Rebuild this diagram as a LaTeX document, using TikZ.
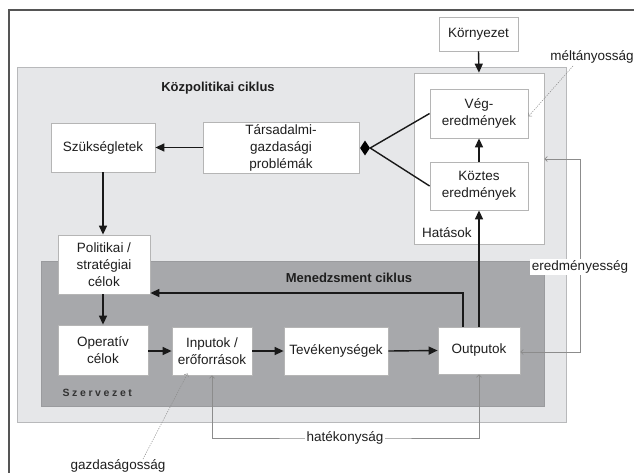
\documentclass[tikz,border=0pt]{standalone}
\usepackage{fontspec}
\setmainfont{Liberation Sans}
\newfontfamily\spacedfont[LetterSpace=25]{Liberation Sans}
\usetikzlibrary{arrows.meta,shapes.geometric}
\definecolor{lightbg}{HTML}{E6E7E9}
\definecolor{lightline}{HTML}{B8B9BB}
\definecolor{darkbg}{HTML}{A7A8AB}
\definecolor{darkline}{HTML}{9A9B9E}
\definecolor{boxline}{HTML}{B5B5B5}
\definecolor{txt}{HTML}{1E1E1E}
\definecolor{frameline}{HTML}{555555}
\definecolor{fbgray}{HTML}{8C8C8C}
\begin{document}
\begin{tikzpicture}[x=1pt,y=-1pt,
  stdfont/.style={font=\fontsize{13.5}{17}\selectfont,text=txt},
  box/.style={draw=boxline,line width=0.8pt,fill=white,align=center,inner sep=0pt,stdfont},
  flow/.style={line width=1.4pt,draw=black!90,-{Triangle[length=9pt,width=8pt]}},
  plainflow/.style={line width=1.4pt,draw=black!90},
  fbline/.style={draw=fbgray,line width=0.6pt},
  fbtips/.style={{Straight Barb[length=2.5pt,width=5pt]}-{Straight Barb[length=2.5pt,width=5pt]}},
  fbend/.style={-{Straight Barb[length=2.5pt,width=5pt]}},
  dots/.style={draw=fbgray,line width=0.5pt,dash pattern=on 1.2pt off 1.2pt},
  heading/.style={font=\bfseries\fontsize{13}{16}\selectfont,text=txt},
  lab/.style={stdfont,inner sep=1pt}
 ]
\useasboundingbox (0,0) rectangle (634,472);
\fill[white] (0,0) rectangle (634,472);
% outer frame
\draw[frameline,line width=1.5pt] (9,480) -- (9,10) -- (640,10);
% background regions
\draw[lightline,fill=lightbg,line width=0.8pt] (17,67) rectangle (566,422);
\draw[darkline,fill=darkbg,line width=0.8pt] (41,261) rectangle (544,406);
% Hatasok box
\node[box,minimum width=130pt,minimum height=171pt] (hat) at (479,158.5) {};
\node[lab,anchor=west] (hatlab) at (421,233) {Hatások};
% boxes
\node[box,minimum width=79pt,minimum height=34pt] (korny) at (478.5,34) {Környezet};
\node[box,minimum width=98pt,minimum height=49pt] (veg) at (479,113.5) {Vég-\\eredmények};
\node[box,minimum width=98pt,minimum height=48pt] (kozt) at (479,186) {Köztes\\eredmények};
\node[box,minimum width=156pt,minimum height=51pt] (tars) at (281,147.5) {Társadalmi-\\gazdasági\\problémák};
\node[box,minimum width=104pt,minimum height=49pt] (szuk) at (103,147.5) {Szükségletek};
\node[box,minimum width=92pt,minimum height=59pt] (pol) at (104,264.5) {Politikai /\\stratégiai\\célok};
\node[box,minimum width=90pt,minimum height=50pt] (oper) at (103,350) {Operatív\\célok};
\node[box,minimum width=80pt,minimum height=48pt] (inp) at (212,351) {Inputok /\\erőforrások};
\node[box,minimum width=104pt,minimum height=48pt] (tev) at (336,351) {Tevékenységek};
\node[box,minimum width=82pt,minimum height=47pt] (out) at (479,350.5) {Outputok};
% headings
\node[heading] (kpc) at (218,88) {Közpolitikai ciklus};
\node[heading] (mc) at (349,278) {Menedzsment ciklus};
\node[anchor=west,font=\spacedfont\bfseries\fontsize{10.5}{13}\selectfont,text=black!80] (szerv) at (59,393) {Szervezet};
% diamond junction
\node[diamond,fill=black,draw=none,minimum width=10pt,minimum height=15pt,inner sep=0pt] (dia) at (365,148) {};
% main flows
\draw[flow] (korny.south) -- (hat.north);
\draw[flow] (kozt.north) -- (veg.south);
\draw[flow] (out.north) -- (kozt.south);
\draw[plainflow] (veg.west) -- (dia.east);
\draw[plainflow] (kozt.west) -- (dia.east);
\draw[flow] (tars.west) -- (szuk.east);
\draw[flow] (szuk.south) -- (szuk.south |- pol.north);
\draw[flow] (pol.south -| oper.north) -- (oper.north);
\draw[flow] (oper.east |- inp.west) -- (inp.west);
\draw[flow] (inp.east) -- (tev.west);
\draw[flow] (tev.east) -- (out.west);
\coordinate (fb) at (463,293);
\draw[flow] (fb |- out.north) -- (fb) -- (fb -| pol.east);
% eredmenyesseg
\coordinate (er) at (580,159);
\draw[fbline,fbtips] (er -| hat.east) -- (er) -- (er |- 0,352) -- (out.east |- 0,352);
\node[lab,fill=white,inner sep=1.5pt] (erlab) at (580,267) {eredményesség};
% hatekonysag
\coordinate (hk) at (345,438);
\draw[fbline,fbtips] (inp.south) |- (hk) -| (out.south);
\node[lab,fill=white,inner sep=1.5pt] (hklab) at (hk) {hatékonyság};
% meltanyossag
\node[lab] (mlab) at (592,57) {méltányosság};
\coordinate (mt) at (573,66);
\draw[dots,fbend] (mt) -- ([yshift=-3pt]veg.east);
% gazdasagossag
\node[lab] (glab) at (118,466) {gazdaságosság};
\coordinate (gt) at (143,459);
\draw[dots,fbend] (gt) -- ([xshift=16pt,yshift=2pt]inp.south west);
\end{tikzpicture}
\end{document}
